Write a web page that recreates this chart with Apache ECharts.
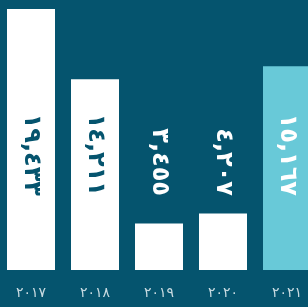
<!DOCTYPE html>
<html>
<head>
<meta charset="utf-8">
<script src="https://cdn.jsdelivr.net/npm/echarts@6/dist/echarts.min.js"></script>
<style>
html,body{margin:0;padding:0;background:#05546e;}
#main{width:308px;height:307px;}
</style>
</head>
<body>
<div id="main"></div>
<script>
var years = ['٢٠١٧','٢٠١٨','٢٠١٩','٢٠٢٠','٢٠٢١'];
var values = [19433, 14211, 3455, 4207, 15167];
var barColors = ['#ffffff','#ffffff','#ffffff','#ffffff','#68c9d8'];
var labelColors = ['#05546e','#05546e','#ffffff','#ffffff','#ffffff'];

var digits = '٠١٢٣٤٥٦٧٨٩';
function toArabic(n){
    var s = String(n).replace(/\B(?=(\d{3})+(?!\d))/g, ',');
    return s.replace(/\d/g, function(d){ return digits[+d]; });
}

var data = [];
for (var i=0;i<values.length;i++){
    data.push({
        value: values[i],
        itemStyle: {color: barColors[i]},
        label: {color: labelColors[i]}
    });
}

var myChart = echarts.init(document.getElementById('main'));
var option = {
    backgroundColor: '#05546e',
    animation: false,
    grid: {left: -1, top: 9, width: 320, height: 261, containLabel: false, outerBoundsMode: 'none'},
    xAxis: {
        type: 'category',
        data: years,
        axisLine: {show: false},
        axisTick: {show: false},
        axisLabel: {
            color: '#c9dbe1',
            fontFamily: 'DejaVu Sans',
            fontSize: 14,
            margin: 16
        }
    },
    yAxis: {
        type: 'value',
        min: 0,
        max: 19433,
        show: false
    },
    series: [{
        type: 'bar',
        data: data,
        barCategoryGap: '25%',
        label: {
            show: true,
            position: 'insideBottom',
            distance: 74,
            rotate: -90,
            align: 'right',
            verticalAlign: 'middle',
            fontFamily: 'DejaVu Sans',
            fontWeight: 'bold',
            fontSize: 24,
            formatter: function(p){ return toArabic(p.value); }
        }
    }]
};
myChart.setOption(option);
</script>
</body>
</html>
